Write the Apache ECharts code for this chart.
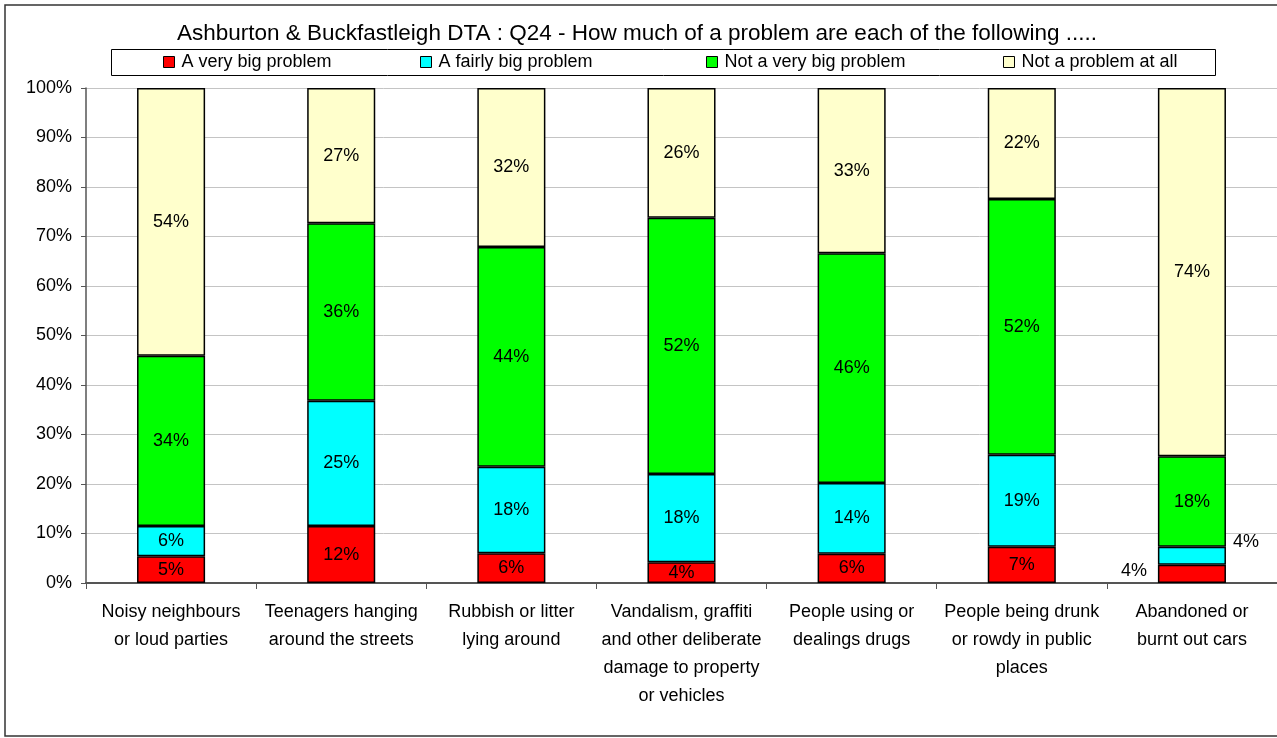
<!DOCTYPE html>
<html>
<head>
<meta charset="utf-8">
<title>Q24 - How much of a problem</title>
<script src="https://cdn.jsdelivr.net/npm/echarts@6/dist/echarts.min.js"></script>
<style>
  html, body { margin: 0; padding: 0; background: #fff; }
  #chart { width: 1277px; height: 738px; }
</style>
</head>
<body>
<div id="chart"></div>
<script>
// categories (line breaks as in the original chart)
const categories = [
    'Noisy neighbours\nor loud parties',
    'Teenagers hanging\naround the streets',
    'Rubbish or litter\nlying around',
    'Vandalism, graffiti\nand other deliberate\ndamage to property\nor vehicles',
    'People using or\ndealings drugs',
    'People being drunk\nor rowdy in public\nplaces',
    'Abandoned or\nburnt out cars'
];

const seriesNames = ['A very big problem', 'A fairly big problem', 'Not a very big problem', 'Not a problem at all'];

// percentages
const veryBig = [5.4, 11.5, 6.0, 4.2, 5.9, 7.3, 3.7];
const fairlyBig = [6.1, 25.3, 17.5, 17.8, 14.3, 18.6, 3.6];
const notVeryBig = [34.4, 35.9, 44.4, 51.8, 46.4, 51.7, 18.3];
const notAtAll = [54.1, 27.3, 32.1, 26.2, 33.4, 22.4, 74.4];

const yTicks = [0, 10, 20, 30, 40, 50, 60, 70, 80, 90, 100];

const FONT = "'Liberation Sans', Arial, sans-serif";
const colors = ['#FF0000', '#00FFFF', '#00FF00', '#FFFFCC'];
const legendLeft = [163, 420, 706, 1003];

const chartDom = document.getElementById('chart');
const myChart = echarts.init(chartDom, null, { renderer: 'canvas' });

function makeSeries(name, values, idx) {
    return {
        name: name,
        type: 'bar',
        stack: 'total',
        barWidth: '40%',
        itemStyle: {
            color: colors[idx],
            borderColor: '#000',
            borderWidth: 1.5
        },
        label: {
            show: true,
            position: 'inside',
            color: '#000',
            fontSize: 18,
            fontFamily: FONT,
            formatter: (p) => Math.round(p.value) + '%'
        },
        emphasis: { disabled: true },
        data: values.map((v, i) => {
            // small segments on the last bar: labels moved outside, as in the original
            if (i === 6 && idx === 0) {
                return { value: v, label: { position: 'left', distance: 11, offset: [0, -3] } };
            }
            if (i === 6 && idx === 1) {
                return { value: v, label: { position: 'right', distance: 7, offset: [0, -14] } };
            }
            return v;
        })
    };
}

myChart.setOption({
    animation: false,
    textStyle: { fontFamily: FONT },
    title: {
        text: 'Ashburton & Buckfastleigh DTA : Q24 - How much of a problem are each of the following .....',
        left: 632,
        top: 17,
        textAlign: 'center',
        textStyle: {
            fontFamily: FONT,
            fontSize: 22.5,
            fontWeight: 'normal',
            color: '#000'
        }
    },
    legend: seriesNames.map((n, i) => ({
        data: [n],
        left: legendLeft[i],
        top: 53,
        padding: 0,
        icon: 'rect',
        itemWidth: 11,
        itemHeight: 11,
        itemStyle: { borderColor: '#000', borderWidth: 1 },
        selectedMode: false,
        textStyle: {
            fontFamily: FONT,
            fontSize: 18,
            color: '#000',
            padding: [0, 0, 0, 2]
        }
    })),
    graphic: [{
        type: 'rect',
        shape: { x: 5, y: 5, width: 1290, height: 731 },
        style: { fill: null, stroke: '#333', lineWidth: 1.5 },
        silent: true
    }, {
        type: 'rect',
        shape: { x: 111.5, y: 49.5, width: 1104, height: 26 },
        style: { fill: null, stroke: '#000', lineWidth: 1 },
        silent: true
    }],
    grid: {
        left: 86,
        right: -4,
        top: 88,
        bottom: 155,
        containLabel: false
    },
    xAxis: {
        type: 'category',
        data: categories,
        axisLine: { lineStyle: { color: '#555', width: 2 } },
        axisTick: { show: true, length: 6, alignWithLabel: false, lineStyle: { color: '#555' } },
        axisLabel: {
            interval: 0,
            margin: 15,
            fontSize: 18,
            lineHeight: 28,
            color: '#000',
            fontFamily: FONT
        }
    },
    yAxis: {
        type: 'value',
        min: yTicks[0],
        max: yTicks[yTicks.length - 1],
        interval: 10,
        axisLine: { show: true, lineStyle: { color: '#555', width: 1.5 } },
        axisTick: { show: true, length: 5, lineStyle: { color: '#555' } },
        splitLine: { lineStyle: { color: '#c4c4c4', width: 1 } },
        axisLabel: {
            margin: 14,
            fontSize: 18,
            color: '#000',
            fontFamily: FONT,
            formatter: (v) => v + '%'
        }
    },
    series: [
        makeSeries(seriesNames[0], veryBig, 0),
        makeSeries(seriesNames[1], fairlyBig, 1),
        makeSeries(seriesNames[2], notVeryBig, 2),
        makeSeries(seriesNames[3], notAtAll, 3)
    ]
});

window.onresize = function () {
    myChart.resize();
}
</script>
</body>
</html>
